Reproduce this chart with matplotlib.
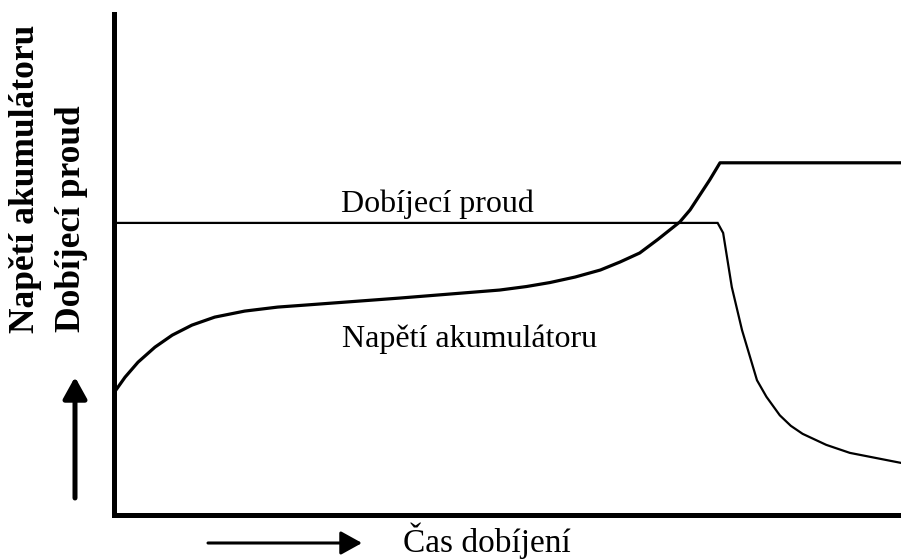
#!/usr/bin/env python
# -*- coding: utf-8 -*-
"""
Nabíjecí charakteristika akumulátoru (proud a napětí v čase)
"""
import matplotlib
matplotlib.use('Agg')
import matplotlib.pyplot as plt

plt.rcParams['font.family'] = ['Liberation Serif', 'DejaVu Serif']

# Dobíjecí proud (čas 0..100, relativní hodnota 0..100)
cas_proud = [0, 76.7, 77.4, 78.5, 79.8, 81.7, 82.9, 84.6, 86.0, 87.5, 90.5, 93.5, 100]
proud = [58.3, 58.3, 56.3, 45.5, 36.9, 26.9, 23.6, 19.9, 17.8, 16.2, 14.0, 12.4, 10.4]

# Napětí akumulátoru
cas_napeti = [0, 1.4, 3.05, 5.2, 7.4, 9.9, 12.8, 16.6, 20.8, 24.3, 36.3, 49.0,
              52.4, 55.4, 58.6, 61.8, 64.3, 66.8, 69.1, 71.9, 73.2, 75.7, 77.0, 100]
napeti = [24.4, 27.5, 30.5, 33.5, 35.9, 37.9, 39.5, 40.7, 41.5, 41.9, 43.3, 44.9,
          45.6, 46.4, 47.5, 48.9, 50.5, 52.3, 55.0, 58.5, 60.9, 66.9, 70.3, 70.3]

W, H = 901, 559


def px(x, y):
    # pixely obrázku (od levého horního rohu) -> souřadnice figury
    return x / W, 1 - y / H


def main():
    fig = plt.figure(figsize=(W / 100, H / 100), dpi=100)
    ax = fig.add_axes([114 / W, (H - 515) / H, 1 - 114 / W, (515 - 14) / H])

    ax.plot(cas_proud, proud, color='black', linewidth=1.6, solid_joinstyle='miter')
    ax.plot(cas_napeti, napeti, color='black', linewidth=2.3, solid_joinstyle='round')

    ax.set_xlim(0, 100)
    ax.set_ylim(0, 100)
    for side in ['top', 'right']:
        ax.spines[side].set_visible(False)
    for side in ['left', 'bottom']:
        ax.spines[side].set_linewidth(3.6)
    ax.set_xticks([])
    ax.set_yticks([])

    # popisky křivek
    fig.text(*px(437, 212), 'Dobíjecí proud', fontsize=23, ha='center', va='baseline')
    fig.text(*px(470, 347), 'Napětí akumulátoru', fontsize=23, ha='center', va='baseline')
    fig.text(*px(487, 552), 'Čas dobíjení', fontsize=24, ha='center', va='baseline')

    # svislé popisky osy y
    fig.text(*px(34, 333), 'Napětí akumulátoru', fontsize=25.5, fontweight='bold',
             rotation=90, rotation_mode='anchor', ha='left', va='baseline')
    fig.text(*px(80, 332), 'Dobíjecí proud', fontsize=25.5, fontweight='bold',
             rotation=90, rotation_mode='anchor', ha='left', va='baseline')

    # šipky
    ax.annotate('', xy=px(75, 377), xytext=px(75, 498),
                xycoords='figure fraction', textcoords='figure fraction',
                arrowprops=dict(arrowstyle='-|>,head_length=0.65,head_width=0.36',
                                mutation_scale=20, lw=3.6, color='black',
                                shrinkA=0, shrinkB=0))
    ax.annotate('', xy=px(362, 543), xytext=px(208, 543),
                xycoords='figure fraction', textcoords='figure fraction',
                arrowprops=dict(arrowstyle='-|>,head_length=0.65,head_width=0.36',
                                mutation_scale=20, lw=2.2, color='black',
                                shrinkA=0, shrinkB=0))

    fig.savefig('out.png', dpi=100)
    plt.close(fig)


if __name__ == "__main__":
    main()
